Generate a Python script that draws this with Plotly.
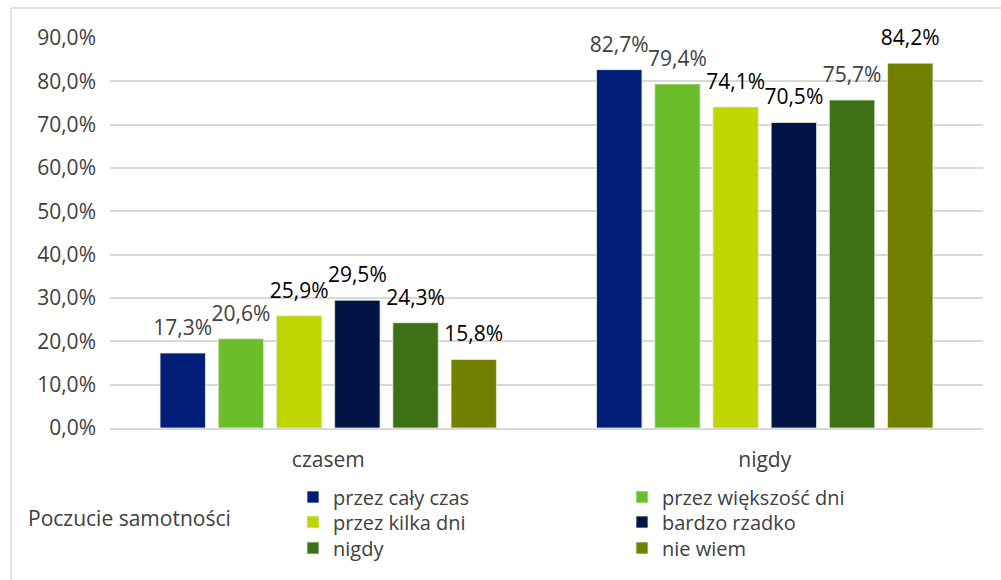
import plotly.graph_objects as go

categories = ["czasem", "nigdy"]
series_names = ["przez cały czas", "przez większość dni", "przez kilka dni",
                "bardzo rzadko", "nigdy", "nie wiem"]
values = [
    [17.3, 82.7],
    [20.6, 79.4],
    [25.9, 74.1],
    [29.5, 70.5],
    [24.3, 75.7],
    [15.8, 84.2],
]
colors = ["#001E78", "#6BBE2A", "#C0D600", "#001446", "#3E7018", "#728000"]
label_colors = [
    ["#404040", "#404040"],
    ["#404040", "#404040"],
    ["#000000", "#000000"],
    ["#000000", "#000000"],
    ["#000000", "#404040"],
    ["#000000", "#000000"],
]
tick_vals = [0, 10, 20, 30, 40, 50, 60, 70, 80, 90]
tick_text = ["0,0%", "10,0%", "20,0%", "30,0%", "40,0%", "50,0%",
             "60,0%", "70,0%", "80,0%", "90,0%"]
legend_title = "Poczucie samotności"

FONT = "Open Sans"
FS = 21
W, H = 1001, 580
ML, MR, MT, MB = 110, 18, 38, 152
pw = W - ML - MR
ph = H - MT - MB

legend_rows = ["legend", "legend", "legend2", "legend2", "legend3", "legend3"]

fig = go.Figure()
for i, (name, vals, col) in enumerate(zip(series_names, values, colors)):
    fig.add_trace(go.Bar(
        name=name, x=categories, y=vals,
        marker=dict(color=col, line=dict(width=0.8, color="#e6eed8")),
        legend=legend_rows[i], offsetgroup=str(i),
        hovertemplate="%{x}<br>" + name + ": %{y:.1f}%<extra></extra>",
    ))
for i, (name, vals, lc) in enumerate(zip(series_names, values, label_colors)):
    fig.add_trace(go.Scatter(
        x=categories, y=vals, mode="markers+text", offsetgroup=str(i),
        marker=dict(size=19, opacity=0), showlegend=False, hoverinfo="skip",
        texttemplate="%{y:.1f}%", textposition="top center",
        textfont=dict(color=lc, size=FS, family=FONT), cliponaxis=False,
    ))

def py(y_px):
    return (H - MB - y_px) / ph

def px(x_px):
    return (x_px - ML) / pw

leg_common = dict(orientation="h", xanchor="left", yanchor="middle",
                  entrywidth=284, entrywidthmode="pixels",
                  font=dict(size=FS - 1, color="#404040", family=FONT),
                  traceorder="normal", itemclick=False, itemdoubleclick=False,
                  bgcolor="rgba(0,0,0,0)")

fig.update_layout(
    width=W, height=H,
    margin=dict(l=ML, r=MR, t=MT, b=MB),
    paper_bgcolor="white", plot_bgcolor="white",
    separators=", ",
    barmode="group", bargap=0.2, bargroupgap=0.22,
    scattermode="group", scattergap=0.2,
    font=dict(family=FONT, size=FS, color="#404040"),
    xaxis=dict(showgrid=False, showline=True, linecolor="#d9d9d9", linewidth=1.5,
               ticks="", ticklabelstandoff=12,
               tickfont=dict(size=FS, color="#404040", family=FONT)),
    yaxis=dict(range=[0, 90], tickvals=tick_vals, ticktext=tick_text,
               showgrid=True, gridcolor="#d9d9d9", gridwidth=1.5, zeroline=False,
               showline=False, ticks="", ticklabelstandoff=13,
               tickfont=dict(size=FS, color="#404040", family=FONT)),
    showlegend=True,
    legend=dict(x=px(293), y=py(497), **leg_common),
    legend2=dict(x=px(293), y=py(522), **leg_common),
    legend3=dict(x=px(293), y=py(548), **leg_common),
    annotations=[dict(text=legend_title, xref="paper", yref="paper",
                      x=px(26), xanchor="left", y=py(518), yanchor="middle",
                      showarrow=False, font=dict(size=FS, color="#404040", family=FONT))],
    shapes=[
        dict(type="line", xref="paper", yref="paper",
             x0=px(11), x1=px(W), y0=py(8), y1=py(8),
             line=dict(color="#d9d9d9", width=1.5)),
        dict(type="line", xref="paper", yref="paper",
             x0=px(11), x1=px(11), y0=py(8), y1=py(H),
             line=dict(color="#d9d9d9", width=1.5)),
    ],
)

fig.write_html("out.html",
               config={"displayModeBar": False},
               post_script="document.body.style.margin='0px';document.body.style.overflow='hidden';")
